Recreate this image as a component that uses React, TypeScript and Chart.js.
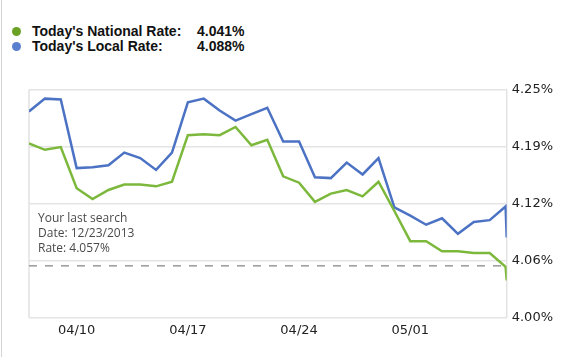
import React, { useEffect, useRef } from "react";
import { Chart, registerables } from "chart.js";

Chart.register(...registerables);

const localRates = [4.226, 4.240, 4.239, 4.164, 4.165, 4.167, 4.181, 4.175, 4.162, 4.181, 4.236, 4.240, 4.227, 4.216, 4.223, 4.230, 4.193, 4.193, 4.154, 4.153, 4.170, 4.157, 4.175, 4.121, 4.112, 4.102, 4.109, 4.092, 4.105, 4.107, 4.122];
const nationalRates = [4.191, 4.184, 4.187, 4.142, 4.130, 4.140, 4.146, 4.146, 4.144, 4.149, 4.200, 4.201, 4.200, 4.209, 4.189, 4.195, 4.155, 4.148, 4.127, 4.136, 4.140, 4.133, 4.149, 4.117, 4.084, 4.084, 4.073, 4.073, 4.071, 4.071, 4.056];
const todayDay = 30.07;
const todayNational = 4.041;
const todayLocal = 4.088;

const xTickDays = [3, 10, 17, 24];
const xTickLabels = ["04/10", "04/17", "04/24", "05/01"];
const yTickValues = [4.0, 4.0625, 4.125, 4.1875, 4.25];
const yTickLabels = ["4.00%", "4.06%", "4.12%", "4.19%", "4.25%"];

const lastSearchDate = "12/23/2013";
const lastSearchRate = 4.057;

const legendItems = [
  { label: "Today's National Rate:", value: "4.041%", color: "#6aa122" },
  { label: "Today's Local Rate:", value: "4.088%", color: "#5b7fcf" },
];

const toPoints = (arr: number[], today: number) =>
  arr.map((v, i) => ({ x: i, y: v })).concat([{ x: todayDay, y: today }]);

const overlayPlugin = {
  id: "overlay",
  beforeDatasetsDraw(chart: any) {
    const { ctx, chartArea, scales } = chart;
    ctx.save();
    // plot side borders
    ctx.strokeStyle = "#e2e2e2";
    ctx.lineWidth = 1.5;
    ctx.beginPath();
    ctx.moveTo(chartArea.left, chartArea.top);
    ctx.lineTo(chartArea.left, chartArea.bottom);
    ctx.moveTo(chartArea.right, chartArea.top);
    ctx.lineTo(chartArea.right, chartArea.bottom);
    ctx.stroke();
    // last search dashed line
    const y = scales.y.getPixelForValue(lastSearchRate);
    ctx.strokeStyle = "#999999";
    ctx.lineWidth = 1.5;
    ctx.setLineDash([8, 8]);
    ctx.beginPath();
    ctx.moveTo(chartArea.left, y);
    ctx.lineTo(chartArea.right - 4, y);
    ctx.stroke();
    ctx.setLineDash([]);
    // annotation text
    ctx.fillStyle = "#4a4a4a";
    ctx.font = '12px "Open Sans"';
    ctx.textBaseline = "middle";
    ctx.textAlign = "left";
    const lines = ["Your last search", "Date: " + lastSearchDate, "Rate: " + lastSearchRate.toFixed(3) + "%"];
    lines.forEach((t, i) => {
      ctx.fillText(t, chartArea.left + 9, y - 17 - (lines.length - 1 - i) * 15);
    });
    ctx.restore();
  },
};

export default function App() {
  const ref = useRef<HTMLCanvasElement>(null);
  useEffect(() => {
    if (!ref.current) return;
    const chart = new Chart(ref.current, {
      type: "line",
      data: {
        datasets: [
          {
            label: "National",
            data: toPoints(nationalRates, todayNational),
            borderColor: "#7cb83c",
            borderWidth: 2.5,
            pointRadius: 0,
            tension: 0,
            fill: false,
          },
          {
            label: "Local",
            data: toPoints(localRates, todayLocal),
            borderColor: "#4c72c4",
            borderWidth: 2.5,
            pointRadius: 0,
            tension: 0,
            fill: false,
          },
        ],
      },
      options: {
        animation: false,
        responsive: false,
        layout: { padding: { left: 29, top: 89.5, right: 11, bottom: 13.5 } },
        plugins: { legend: { display: false }, tooltip: { enabled: false } },
        scales: {
          x: {
            type: "linear",
            min: 0,
            max: todayDay,
            afterBuildTicks: (scale: any) => {
              scale.ticks = xTickDays.map((v) => ({ value: v }));
            },
            grid: { display: false, drawTicks: false },
            border: { display: false },
            ticks: {
              autoSkip: false,
              maxRotation: 0,
              padding: 5,
              color: "#222",
              font: { family: '"DejaVu Sans"', size: 13 },
              callback: (_v: any, i: number) => xTickLabels[i],
            },
          },
          y: {
            type: "linear",
            position: "right",
            min: 4.0,
            max: 4.25,
            afterBuildTicks: (scale: any) => {
              scale.ticks = yTickValues.map((v) => ({ value: v }));
            },
            grid: { color: "#e4e4e4", lineWidth: 1.5, drawTicks: false },
            border: { display: false },
            ticks: {
              padding: 5,
              color: "#222",
              font: { family: '"DejaVu Sans"', size: 13 },
              callback: (_v: any, i: number) => yTickLabels[i],
            },
          },
        },
      },
      plugins: [overlayPlugin],
    } as any);
    return () => chart.destroy();
  }, []);

  return (
    <div style={{ position: "fixed", left: 0, top: 0, width: 569, height: 357, background: "#fff", overflow: "hidden" }}>
      <div style={{ position: "absolute", left: 1, top: 0, width: 1, height: 357, background: "#d4d4d4" }} />
      {legendItems.map((it, i) => (
        <div key={i} style={{ position: "absolute", left: 0, top: 24 + i * 15, height: 15, width: 300 }}>
          <span style={{ position: "absolute", left: 12, top: 3, width: 9, height: 9, borderRadius: "50%", background: it.color }} />
          <span style={{ position: "absolute", left: 32, top: 0, font: 'bold 14px "Liberation Sans", Arial', lineHeight: "15px", color: "#111", whiteSpace: "nowrap" }}>{it.label}</span>
          <span style={{ position: "absolute", left: 197, top: 0, font: 'bold 14px "Liberation Sans", Arial', lineHeight: "15px", color: "#111", whiteSpace: "nowrap" }}>{it.value}</span>
        </div>
      ))}
      <canvas ref={ref} width={569} height={357} style={{ position: "absolute", left: 0, top: 0, width: 569, height: 357 }} />
    </div>
  );
}
